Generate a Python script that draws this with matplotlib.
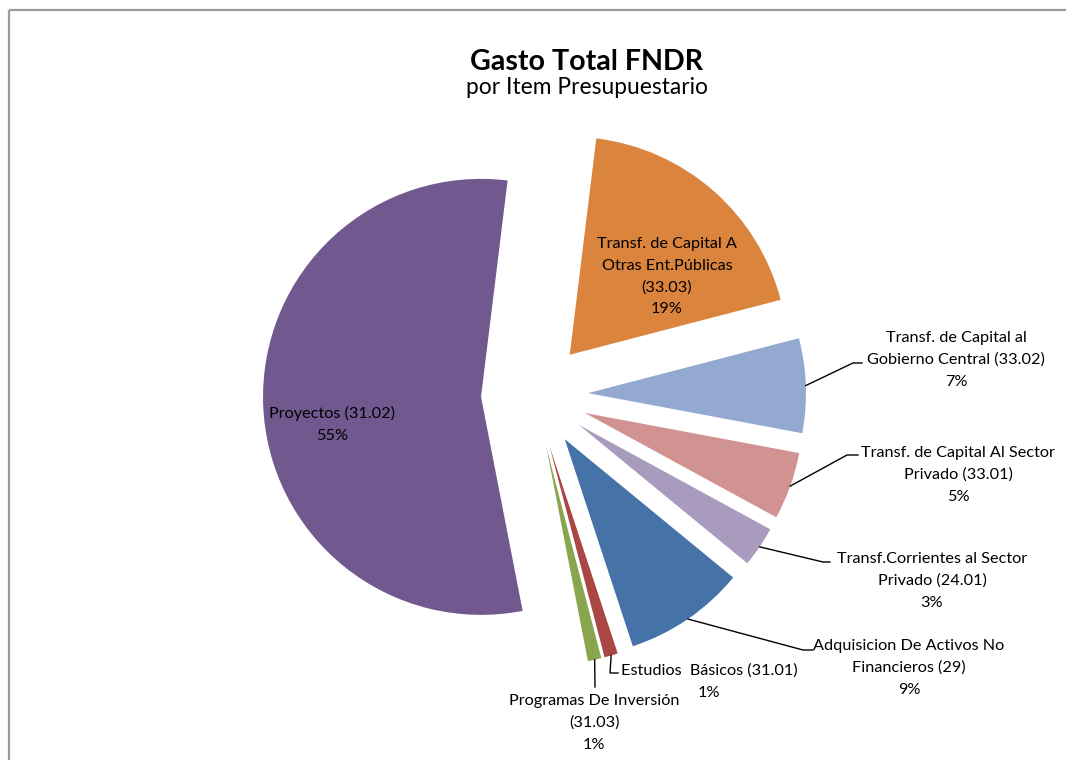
import numpy as np
import matplotlib
matplotlib.use("Agg")
import matplotlib.pyplot as plt

# ---- data ----
categories = [
    "Transf. de Capital A Otras Ent.Públicas (33.03)",
    "Transf. de Capital al Gobierno Central (33.02)",
    "Transf. de Capital Al Sector Privado (33.01)",
    "Transf.Corrientes al Sector Privado (24.01)",
    "Adquisicion De Activos No Financieros (29)",
    "Estudios Básicos (31.01)",
    "Programas De Inversión (31.03)",
    "Proyectos (31.02)",
]
values = [19, 7, 5, 3, 9, 1, 1, 55]
pct_labels = ["19%", "7%", "5%", "3%", "9%", "1%", "1%", "55%"]
label_lines = [
    ["Transf. de Capital A", "Otras Ent.Públicas", "(33.03)"],
    ["Transf. de Capital al", "Gobierno Central (33.02)"],
    ["Transf. de Capital Al Sector", "Privado (33.01)"],
    ["Transf.Corrientes al Sector", "Privado (24.01)"],
    ["Adquisicion De Activos No", "Financieros (29)"],
    ["Estudios  Básicos (31.01)"],
    ["Programas De Inversión", "(31.03)"],
    ["Proyectos (31.02)"],
]
colors = ["#DB843D", "#93A9CF", "#D19392", "#A99BBD", "#4572A7",
          "#AA4643", "#89A54E", "#71588F"]

W, H = 1066, 760
FONT = "Lato"

fig = plt.figure(figsize=(W / 100, H / 100), dpi=100)
ax = fig.add_axes([0, 0, 1, 1])

def Y(y):
    return H - y

R = 218
center = (534.5, Y(395))
explode = [53.5] * len(values)
wedges, _ = ax.pie(values, colors=colors, startangle=83, counterclock=False,
                   radius=R, center=center, explode=explode,
                   wedgeprops=dict(linewidth=0))

ax.set_xlim(0, W)
ax.set_ylim(0, H)
ax.set_aspect("equal")
ax.axis("off")

# chart border (top and left)
ax.plot([8.5, W], [Y(9.5), Y(9.5)], color="#9a9a9a", lw=1.6, solid_capstyle="butt")
ax.plot([8.5, 8.5], [Y(9.5), 0], color="#9a9a9a", lw=1.6, solid_capstyle="butt")

# title
ax.text(587, Y(70), "Gasto Total FNDR", ha="center", va="baseline",
        fontsize=20.6, fontweight="bold", family=FONT, color="black")
ax.text(587, Y(94), "por Item Presupuestario", ha="center", va="baseline",
        fontsize=16.4, family=FONT, color="black")

FS = 11.7
def block(lines, cx, y0, sp=21.8):
    for i, s in enumerate(lines):
        ax.text(cx, Y(y0 + i * sp), s, ha="center", va="baseline",
                fontsize=FS, family=FONT, color="black")

# label placements (center x, first baseline)
placements = [
    (667, 248), (956, 342), (958, 457), (932, 563),
    (909, 650), (709, 675), (594, 705), (332, 418),
]
# leader elbow points (image coords); None = inside label
elbows = [
    None,
    [(853, 363), (862, 363)],
    [(847, 455), (858, 455)],
    [(823, 562), (830, 562)],
    [(803, 650), (813, 650)],
    [(610, 673), (618, 673)],
    [(595, 687)],
    None,
]

for i, w in enumerate(wedges):
    lines = label_lines[i] + [pct_labels[i]]
    cx, y0 = placements[i]
    block(lines, cx, y0)
    if elbows[i] is not None:
        th = np.deg2rad((w.theta1 + w.theta2) / 2)
        ax0 = w.center[0] + w.r * np.cos(th)
        ay0 = w.center[1] + w.r * np.sin(th)
        xs = [ax0] + [p[0] for p in elbows[i]]
        ys = [ay0] + [Y(p[1]) for p in elbows[i]]
        ax.plot(xs, ys, color="black", lw=1.0)

fig.savefig("out.png", dpi=100)
